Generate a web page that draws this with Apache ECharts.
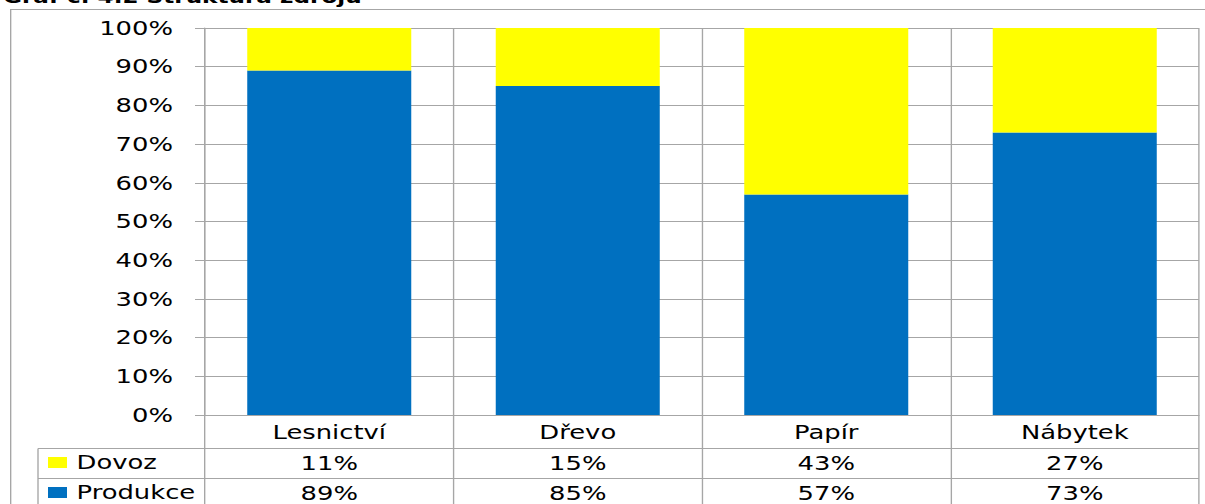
<!DOCTYPE html>
<html>
<head>
<meta charset="utf-8">
<title>Struktura zdrojů</title>
<script src="https://cdn.jsdelivr.net/npm/echarts@6/dist/echarts.min.js"></script>
<style>
  html, body { margin: 0; padding: 0; background: #fff; overflow: hidden; }
  /* the original picture is stretched sideways, so the chart is drawn narrow and widened */
  #chart { width: 886px; height: 504px; transform: scaleX(1.36005); transform-origin: 0 0; }
</style>
</head>
<body>
<div id="chart"></div>
<script>
  const categories = ['Lesnictví', 'Dřevo', 'Papír', 'Nábytek'];
  const produkce = [89, 85, 57, 73];
  const dovoz = [11, 15, 43, 27];
  const yTicks = { min: 0, max: 100, step: 10 };

  const S = 1205 / 886;       // horizontal stretch
  const sx = x => x / S;      // picture x -> chart x
  const font = 'DejaVu Sans';
  const gray = '#a6a6a6';

  const chart = echarts.init(document.getElementById('chart'), null, { renderer: 'svg' });

  const line = (x1, y1, x2, y2) => ({
    type: 'line',
    shape: { x1: x1, y1: y1, x2: x2, y2: y2 },
    style: { stroke: gray, lineWidth: 1 },
    silent: true
  });

  // one legend per table row, so each key sits in its own row
  const rowLegend = (name, top) => ({
    data: [name],
    left: sx(48),
    top: top,
    padding: 0,
    itemWidth: sx(19),
    itemHeight: 11,
    icon: 'rect',
    selectedMode: false,
    textStyle: { fontFamily: font, fontSize: 19, color: '#000', padding: [0, 0, 0, 2] }
  });

  const option = {
    animation: false,
    textStyle: { fontFamily: font },
    grid: { left: sx(205), right: 886 - sx(1199), top: 28, bottom: 89 },
    legend: [rowLegend('Dovoz', 453), rowLegend('Produkce', 483)],
    xAxis: [
      {
        type: 'category',
        data: categories,
        axisLine: { show: true, lineStyle: { color: gray } },
        axisTick: { show: true, length: 95, interval: 0, lineStyle: { color: gray } },
        splitLine: { show: true, interval: 0, lineStyle: { color: gray } },
        axisLabel: { fontSize: 19, color: '#000', margin: 8, fontFamily: font }
      },
      {
        type: 'category',
        position: 'bottom',
        offset: 33,
        data: dovoz.map(v => v + '%'),
        axisLine: { show: false },
        axisTick: { show: false },
        axisLabel: { fontSize: 19, color: '#000', margin: 6, fontFamily: font }
      },
      {
        type: 'category',
        position: 'bottom',
        offset: 63,
        data: produkce.map(v => v + '%'),
        axisLine: { show: false },
        axisTick: { show: false },
        axisLabel: { fontSize: 19, color: '#000', margin: 6, fontFamily: font }
      }
    ],
    yAxis: {
      type: 'value',
      min: yTicks.min,
      max: yTicks.max,
      interval: yTicks.step,
      axisLine: { show: true, lineStyle: { color: gray } },
      axisTick: { show: true, length: sx(10), lineStyle: { color: gray } },
      splitLine: { lineStyle: { color: gray } },
      axisLabel: { formatter: '{value}%', fontSize: 19, color: '#000', margin: sx(32), fontFamily: font }
    },
    series: [
      {
        name: 'Produkce',
        type: 'bar',
        stack: 'zdroje',
        barWidth: '66%',
        itemStyle: { color: '#0070C0' },
        data: produkce
      },
      {
        name: 'Dovoz',
        type: 'bar',
        stack: 'zdroje',
        barWidth: '66%',
        itemStyle: { color: '#FFFF00' },
        data: dovoz
      }
    ],
    graphic: [
      // title, mostly cut off at the top edge as in the original
      {
        type: 'text',
        x: sx(3),
        y: 6,
        style: { text: 'Graf č. 4.2 Struktura zdrojů', font: 'bold 17px "DejaVu Sans"', fill: '#000', verticalAlign: 'bottom' },
        silent: true
      },
      // outer frame
      line(sx(10), 9.5, 886, 9.5),
      line(sx(10) + 0.5, 9.5, sx(10) + 0.5, 504),
      // data table rows
      line(sx(38), 448.5, sx(1199), 448.5),
      line(sx(38), 478.5, sx(1199), 478.5),
      line(sx(38), 448.5, sx(38), 504)
    ]
  };

  chart.setOption(option);
</script>
</body>
</html>
